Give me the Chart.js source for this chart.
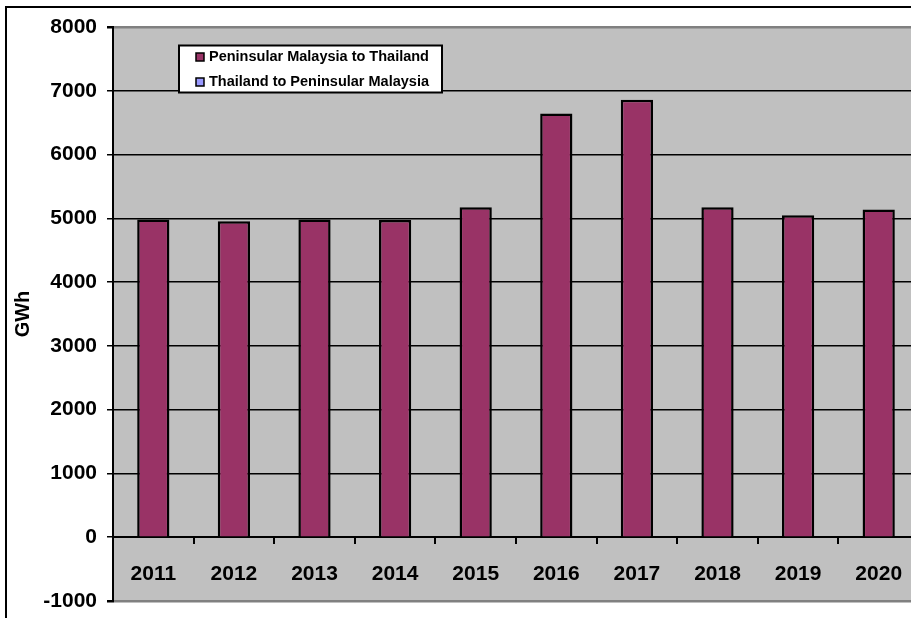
<!DOCTYPE html>
<html>
<head>
<meta charset="utf-8">
<title>Peninsular Malaysia - Thailand interconnection</title>
<script src="https://cdn.jsdelivr.net/npm/chart.js@4/dist/chart.umd.min.js"></script>
<style>
  html, body { margin: 0; padding: 0; background: #fff; overflow: hidden; }
  #wrap { position: relative; width: 919px; height: 618px; }
</style>
</head>
<body>
<div id="wrap"><canvas id="flowChart"></canvas></div>
<script>
const years = ["2011", "2012", "2013", "2014", "2015", "2016", "2017", "2018", "2019", "2020"];
const peninsularToThailand = [4980, 4955, 4980, 4975, 5175, 6645, 6860, 5175, 5050, 5140];
const thailandToPeninsular = [0, 0, 0, 0, 0, 0, 0, 0, 0, 0];
const seriesNames = ["Peninsular Malaysia to Thailand", "Thailand to Peninsular Malaysia"];
const yTicks = [-1000, 0, 1000, 2000, 3000, 4000, 5000, 6000, 7000, 8000];

const FONT = "'Liberation Sans', Arial, sans-serif";

// grey plot area plus the outer frame of the chart
const backdrop = {
  id: "backdrop",
  beforeDraw(chart) {
    const { ctx, chartArea: a } = chart;
    ctx.save();
    ctx.fillStyle = "#c0c0c0";
    ctx.fillRect(a.left, a.top, a.right - a.left, a.bottom - a.top);
    ctx.fillStyle = "#000";
    ctx.fillRect(5, 6, chart.width, 2);
    ctx.fillRect(5, 6, 2, chart.height);
    ctx.restore();
  },
};

// boxed legend sitting inside the plot
const boxLegend = {
  id: "boxLegend",
  afterDraw(chart) {
    const ctx = chart.ctx;
    ctx.save();
    ctx.fillStyle = "#fff";
    ctx.fillRect(179, 45.5, 263, 47);
    ctx.strokeStyle = "#000";
    ctx.lineWidth = 2;
    ctx.strokeRect(179, 45.5, 263, 47);
    ctx.font = "bold 14.5px " + FONT;
    ctx.textBaseline = "middle";
    chart.data.datasets.forEach((ds, i) => {
      const y = 57 + i * 25;
      ctx.fillStyle = ds.backgroundColor;
      ctx.fillRect(196, y - 4, 8, 8);
      ctx.lineWidth = 1.5;
      ctx.strokeRect(196, y - 4, 8, 8);
      ctx.fillStyle = "#000";
      ctx.fillText(ds.label, 209, y);
    });
    ctx.restore();
  },
};

new Chart(document.getElementById("flowChart"), {
  type: "bar",
  data: {
    labels: years,
    datasets: [
      {
        label: seriesNames[0],
        data: peninsularToThailand,
        backgroundColor: "#993366",
        borderColor: "#000",
        borderWidth: 2.5,
        grouped: false,
        categoryPercentage: 1,
        barPercentage: 0.4,
      },
      {
        label: seriesNames[1],
        data: thailandToPeninsular,
        backgroundColor: "#9999ff",
        borderColor: "#000",
        borderWidth: 2.5,
        grouped: false,
        categoryPercentage: 1,
        barPercentage: 0.4,
      },
    ],
  },
  options: {
    responsive: true,
    maintainAspectRatio: false,
    animation: false,
    layout: { padding: { top: 27, bottom: 17, left: 0, right: 0 } },
    plugins: {
      legend: { display: false },
      tooltip: { enabled: false },
    },
    scales: {
      x: {
        position: { y: 0 },
        afterFit(scale) {
          scale.paddingLeft = 0;
          scale.paddingRight = 0;
          scale.paddingTop = 0;
          scale.paddingBottom = 0;
        },
        grid: {
          offset: true,
          drawOnChartArea: false,
          tickLength: 6,
          tickColor: "#000",
          lineWidth: 2,
        },
        border: { color: "#000", width: 2 },
        ticks: {
          color: "#000",
          padding: 18,
          font: { family: FONT, size: 21, weight: "bold" },
        },
      },
      y: {
        min: -1000,
        max: 8000,
        afterBuildTicks(scale) {
          scale.ticks = yTicks.map((v) => ({ value: v }));
        },
        afterFit(scale) {
          scale.width = 113;
          scale.paddingTop = 0;
          scale.paddingBottom = 0;
        },
        grid: {
          tickLength: 6,
          tickColor: "#000",
          color: (c) => (c.tick && (c.tick.value === 8000 || c.tick.value === -1000) ? "#808080" : "#000"),
          lineWidth: (c) => (c.tick && (c.tick.value === 8000 || c.tick.value === -1000) ? 2.5 : 1.5),
        },
        border: { color: "#000", width: 2 },
        ticks: {
          color: "#000",
          padding: 10,
          font: { family: FONT, size: 21, weight: "bold" },
          callback: (v) => String(v),
        },
        title: {
          display: true,
          text: "GWh",
          color: "#000",
          padding: { top: 11, bottom: 0 },
          font: { family: FONT, size: 20, weight: "bold" },
        },
      },
    },
  },
  plugins: [backdrop, boxLegend],
});
</script>
</body>
</html>
